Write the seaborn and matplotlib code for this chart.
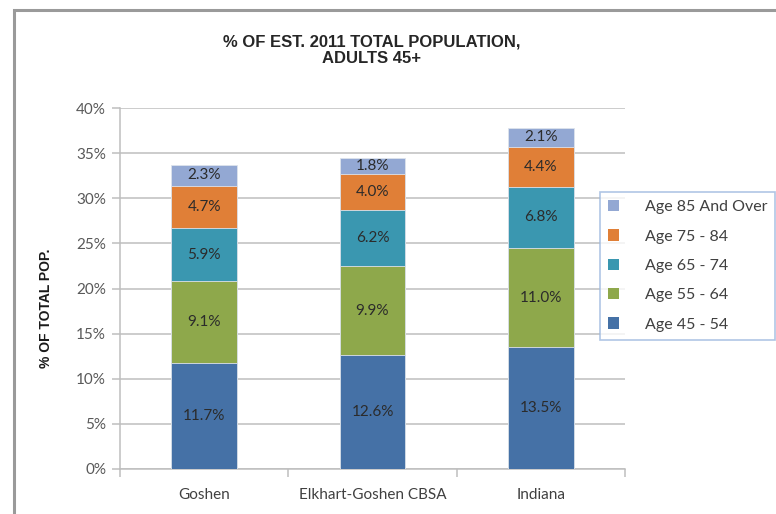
import numpy as np
import pandas as pd
import matplotlib
matplotlib.use("Agg")
import matplotlib.pyplot as plt
from matplotlib.patches import Rectangle, Patch
import seaborn as sns

# --- DATA ---
AREAS = ["Goshen", "Elkhart-Goshen CBSA", "Indiana"]
AGE_GROUPS = ["Age 45 - 54", "Age 55 - 64", "Age 65 - 74", "Age 75 - 84", "Age 85 And Over"]
AGE_45_54 = [11.7, 12.6, 13.5]
AGE_55_64 = [9.1, 9.9, 11.0]
AGE_65_74 = [5.9, 6.2, 6.8]
AGE_75_84 = [4.7, 4.0, 4.4]
AGE_85_UP = [2.3, 1.8, 2.1]
Y_TICKS = [0, 5, 10, 15, 20, 25, 30, 35, 40]

COLORS = ["#4571A6", "#8EA84B", "#3A97B0", "#E07F37", "#93A8D3"]
TEXT = "#595959"

sns.set_style("white")
plt.rcParams["font.family"] = ["Lato", "DejaVu Sans"]

series = [AGE_45_54, AGE_55_64, AGE_65_74, AGE_75_84, AGE_85_UP]
vals = np.array(series)
tops = vals.cumsum(axis=0)
bottoms = tops - vals

fig = plt.figure(figsize=(7.76, 5.14), dpi=100)
ax = fig.add_axes([120 / 776, 1 - 469 / 514, 505 / 776, 361 / 514])

# chart border
fig.patches.append(Rectangle((14 / 776, -0.05), 1.1, 0.05 + 1 - 10 / 514,
                             transform=fig.transFigure, fill=False,
                             edgecolor="#9A9A9A", linewidth=2.2))

# stacked bars: draw cumulative heights from top segment down
for i in reversed(range(len(series))):
    df = pd.DataFrame({"area": AREAS, "value": tops[i]})
    sns.barplot(data=df, x="area", y="value", color=COLORS[i], width=0.39,
                saturation=1, edgecolor="#DDE3EC", linewidth=0.6, ax=ax, zorder=3)

# segment labels
for i in range(len(series)):
    for j in range(len(AREAS)):
        ax.text(j, bottoms[i, j] + vals[i, j] / 2, f"{vals[i, j]:.1f}%",
                ha="center", va="center", fontsize=11, color="#2B2B2B", zorder=5)

ax.set_ylim(0, 40)
ax.set_xlim(-0.5, 2.5)
ax.set_yticks(Y_TICKS)
ax.set_yticklabels([f"{t}%" for t in Y_TICKS])
ax.yaxis.grid(True, color="#BEBEBE", linewidth=1.1, zorder=0)
ax.set_axisbelow(True)
for s in ["top", "right"]:
    ax.spines[s].set_visible(False)
for s in ["left", "bottom"]:
    ax.spines[s].set_color("#BEBEBE")
    ax.spines[s].set_linewidth(1.1)

ax.tick_params(axis="y", left=True, length=6, color="#BEBEBE", width=1.1,
               labelsize=11, labelcolor=TEXT, pad=4)
ax.tick_params(axis="x", bottom=False, labelsize=11, labelcolor="#404040", pad=10)
ax.set_xticks([-0.5, 0.5, 1.5, 2.5], minor=True)
ax.tick_params(axis="x", which="minor", bottom=True, length=6, color="#BEBEBE", width=1.1)
ax.set_xlabel("")
ax.set_ylabel("")

fig.text(46 / 776, 1 - 308 / 514, "% OF TOTAL POP.", rotation=90,
         ha="center", va="center", fontsize=10, fontweight="bold",
         family=["Liberation Sans Narrow", "Liberation Sans", "DejaVu Sans"],
         color="#1A1A1A")

fig.text(372 / 776, 1 - 50 / 514, "% OF EST. 2011 TOTAL POPULATION,\nADULTS 45+",
         ha="center", va="center", fontsize=12, fontweight="bold",
         family=["Liberation Sans", "DejaVu Sans"], linespacing=1.1)

handles = [Patch(facecolor=COLORS[i], edgecolor="none") for i in reversed(range(len(series)))]
labels = list(reversed(AGE_GROUPS))
leg = fig.legend(handles, labels, loc="upper left",
                 bbox_to_anchor=(600 / 776, 1 - 192 / 514), frameon=True,
                 fancybox=False, fontsize=11.5, handlelength=0.7, handleheight=0.7,
                 handletextpad=1.6, labelspacing=0.95, borderpad=0.5,
                 borderaxespad=0)
leg.get_frame().set_edgecolor("#9CB8DE")
leg.get_frame().set_linewidth(1.2)
for t in leg.get_texts():
    t.set_color("#404040")

fig.savefig("out.png", dpi=100)
